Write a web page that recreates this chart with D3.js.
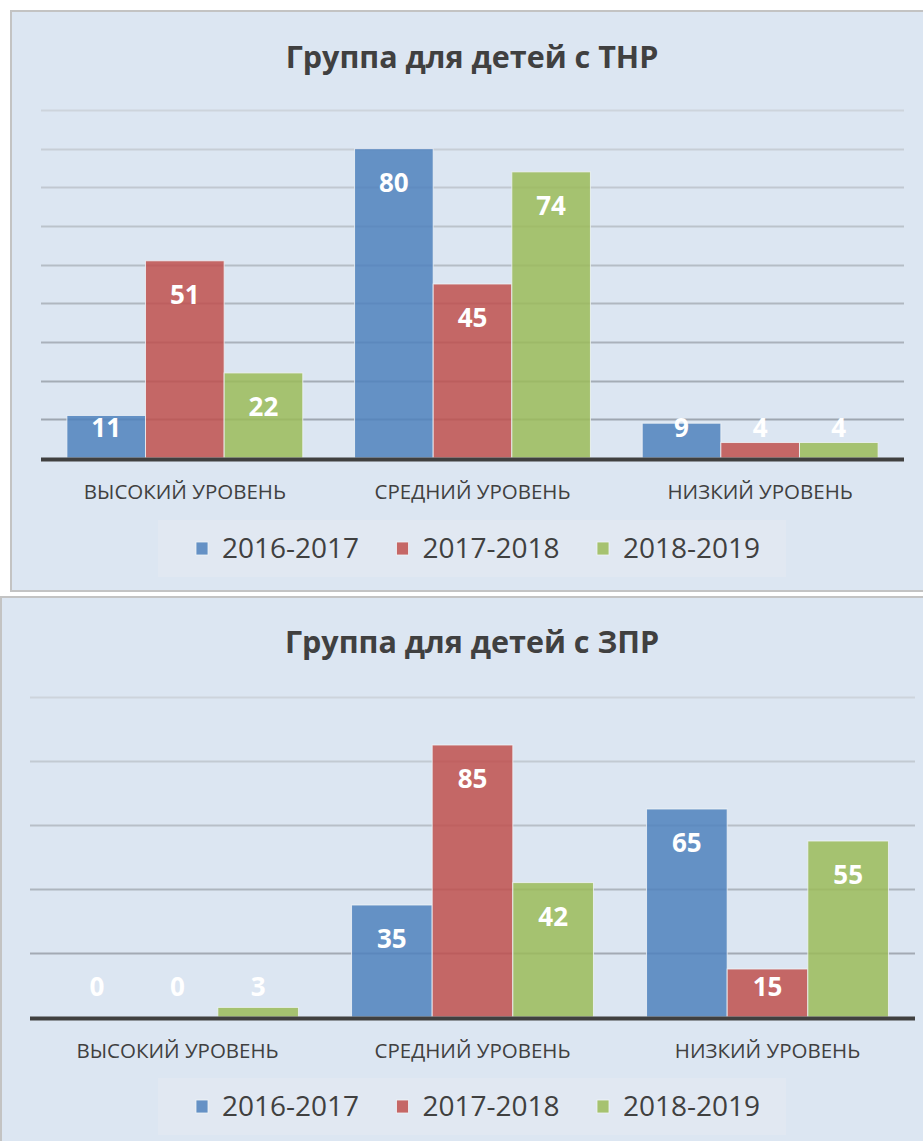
<!DOCTYPE html>
<html><head><meta charset="utf-8">
<script src="https://cdn.jsdelivr.net/npm/d3@7"></script>
<style>
html,body{margin:0;padding:0;background:#fff;}
svg{display:block;}
text{font-family:"Open Sans","Noto Sans",sans-serif;}
</style></head>
<body>
<svg id="chart" width="923" height="1141"></svg>
<script>
// ---- data ----
const categories = ["ВЫСОКИЙ УРОВЕНЬ", "СРЕДНИЙ УРОВЕНЬ", "НИЗКИЙ УРОВЕНЬ"];
const seriesNames = ["2016-2017", "2017-2018", "2018-2019"];
const seriesColors = ["#4F81BD", "#C0504D", "#9BBB59"];
const thnrTitle = "Группа для детей с ТНР";
const thnr2016 = [11, 80, 9];
const thnr2017 = [51, 45, 4];
const thnr2018 = [22, 74, 4];
const thnrTicks = [0, 10, 20, 30, 40, 50, 60, 70, 80, 90];
const zprTitle = "Группа для детей с ЗПР";
const zpr2016 = [0, 35, 65];
const zpr2017 = [0, 85, 15];
const zpr2018 = [3, 42, 55];
const zprTicks = [0, 20, 40, 60, 80, 100];

const svg = d3.select("#chart");

function drawChart(cfg) {
  const g = svg.append("g");
  g.append("rect").attr("x", cfg.panel[0]).attr("y", cfg.panel[1])
    .attr("width", cfg.panel[2]).attr("height", cfg.panel[3])
    .attr("fill", "#dce6f2").attr("stroke", "#c3c3c3").attr("stroke-width", 2);

  g.append("text").attr("x", cfg.titleX).attr("y", cfg.titleY)
    .attr("text-anchor", "middle").attr("fill", "#404040")
    .attr("font-size", 30.5).attr("font-weight", "bold").text(cfg.title);

  const y = d3.scaleLinear().domain([0, d3.max(cfg.ticks)]).range([cfg.base, cfg.top]);
  const x0 = d3.scaleBand().domain(categories).range([cfg.left, cfg.right])
    .paddingInner(0.18).paddingOuter(0.09);
  const x1 = d3.scaleBand().domain(seriesNames).range([0, x0.bandwidth()]);

  // gridlines
  const gridTicks = cfg.ticks.filter(t => t > 0);
  const shade = d3.scaleLinear().domain([d3.max(cfg.ticks), 0]).range(["#cdd4dc", "#98a0aa"]);
  g.append("g").selectAll("line").data(gridTicks).join("line")
    .attr("x1", cfg.left).attr("x2", cfg.right)
    .attr("y1", d => Math.round(y(d)) + 0.5).attr("y2", d => Math.round(y(d)) + 0.5)
    .attr("stroke", d => shade(d)).attr("stroke-width", 2);

  const series = cfg.values.map((vals, i) => ({ name: seriesNames[i], color: seriesColors[i], vals }));
  const groups = g.append("g").selectAll("g").data(series).join("g");
  groups.selectAll("rect").data(s => s.vals.map((v, j) => ({ v, cat: categories[j], s })))
    .join("rect")
    .attr("x", d => x0(d.cat) + x1(d.s.name))
    .attr("y", d => y(d.v))
    .attr("width", x1.bandwidth())
    .attr("height", d => y(0) - y(d.v))
    .attr("fill", d => d.s.color).attr("fill-opacity", 0.85)
    .attr("stroke", "#f0f4f8").attr("stroke-opacity", d => d.v > 0 ? 0.8 : 0).attr("stroke-width", 1);

  // baseline
  g.append("line").attr("x1", cfg.left).attr("x2", cfg.right)
    .attr("y1", cfg.base + 1.5).attr("y2", cfg.base + 1.5)
    .attr("stroke", "#404040").attr("stroke-width", 4);

  // data labels
  groups.selectAll("text").data(s => s.vals.map((v, j) => ({ v, cat: categories[j], s })))
    .join("text")
    .attr("x", d => x0(d.cat) + x1(d.s.name) + x1.bandwidth() / 2)
    .attr("y", d => Math.min(y(d.v) + 34, cfg.base - 30) + 9)
    .attr("text-anchor", "middle").attr("fill", "#fff")
    .attr("font-size", 26).attr("font-weight", "bold").text(d => d.v);

  // category labels
  g.append("g").selectAll("text").data(categories).join("text")
    .attr("x", d => x0(d) + x0.bandwidth() / 2).attr("y", cfg.catY)
    .attr("text-anchor", "middle").attr("fill", "#404040")
    .attr("font-size", 20.5).text(d => d);

  // legend
  const lg = g.append("g");
  lg.append("rect").attr("x", 158).attr("y", cfg.legendY).attr("width", 628).attr("height", 57)
    .attr("fill", "#e1e8f2");
  const items = lg.selectAll("g").data(seriesNames).join("g")
    .attr("transform", (d, i) => `translate(${196 + i * 200.5},${cfg.legendY + 28})`);
  items.append("rect").attr("x", 0).attr("y", -6).attr("width", 12).attr("height", 13)
    .attr("fill", (d, i) => seriesColors[i]).attr("fill-opacity", 0.85)
    .attr("stroke", "#f0f4f8").attr("stroke-width", 0.8);
  items.append("text").attr("x", 26).attr("y", 10).attr("fill", "#404040")
    .attr("font-size", 28).text(d => d);
}

drawChart({
  panel: [11, 11, 940, 580], title: thnrTitle, titleX: 472, titleY: 68,
  ticks: thnrTicks, base: 458, top: 110, left: 41, right: 904,
  values: [thnr2016, thnr2017, thnr2018], catY: 499, legendY: 520
});
drawChart({
  panel: [1, 597, 950, 570], title: zprTitle, titleX: 472, titleY: 653,
  ticks: zprTicks, base: 1017, top: 697, left: 30, right: 915,
  values: [zpr2016, zpr2017, zpr2018], catY: 1058, legendY: 1078
});
</script>
</body></html>
